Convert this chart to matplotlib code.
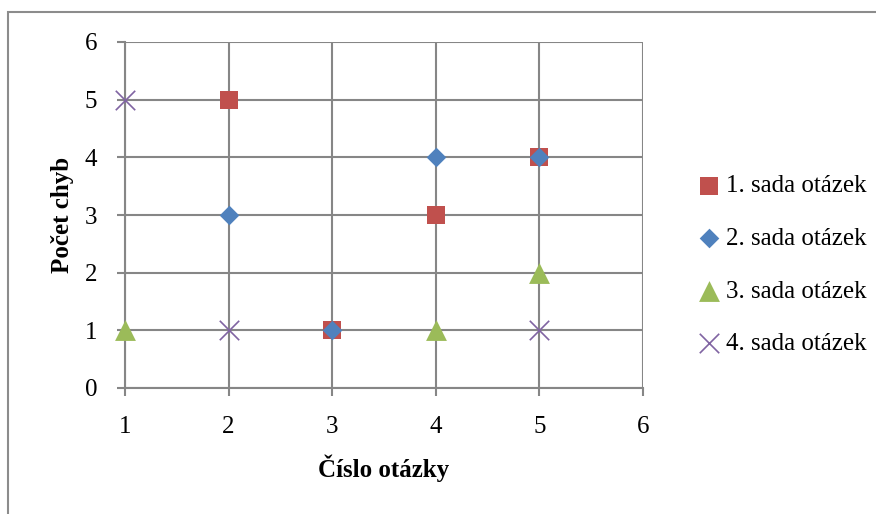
import matplotlib.pyplot as plt
from matplotlib.patches import Rectangle

# values
series_names = ["1. sada otázek", "2. sada otázek", "3. sada otázek", "4. sada otázek"]
x1 = [2, 3, 4, 5]
y1 = [5, 1, 3, 4]
x2 = [2, 3, 4, 5]
y2 = [3, 1, 4, 4]
x3 = [1, 4, 5]
y3 = [1, 1, 2]
x4 = [1, 2, 5]
y4 = [5, 1, 1]
x_ticks = [1, 2, 3, 4, 5, 6]
y_ticks = [0, 1, 2, 3, 4, 5, 6]

plt.rcParams['font.family'] = ['Liberation Serif', 'DejaVu Serif']
fs = 18
grid_c = '#868686'

fig = plt.figure(figsize=(8.76, 5.14), dpi=100)
# outer chart border (only top and left visible in reference)
fig.patches.append(Rectangle((8 / 876, -0.1), 1.2, 1.1 - 12 / 514, transform=fig.transFigure,
                             fill=False, edgecolor='#8c8c8c', linewidth=1.5))
ax = fig.add_axes([125 / 876, 1 - 388 / 514, (643 - 125) / 876, (388 - 42) / 514])

ax.scatter(x1, y1, marker='s', s=13.5 ** 2, color='#C0504D', label=series_names[0],
           zorder=3, linewidths=0, clip_on=False)
ax.scatter(x2, y2, marker='D', s=10 ** 2, color='#4F81BD', label=series_names[1],
           zorder=4, linewidths=0, clip_on=False)
ax.scatter(x3, y3, marker='^', s=15 ** 2, color='#9BBB59', label=series_names[2],
           zorder=3, linewidths=0, clip_on=False)
ax.scatter(x4, y4, marker='x', s=14 ** 2, color='#8064A2', label=series_names[3],
           zorder=3, linewidths=1.2, clip_on=False)

ax.set_xlim(1, 6)
ax.set_ylim(0, 6)
ax.set_xticks(x_ticks)
ax.set_yticks(y_ticks)
ax.grid(True, color=grid_c, linewidth=1.5, zorder=1)
ax.set_axisbelow(True)
for side in ['top', 'right']:
    ax.spines[side].set_visible(False)
for side in ['left', 'bottom']:
    ax.spines[side].set_color(grid_c)
    ax.spines[side].set_linewidth(1.5)
ax.tick_params(axis='both', colors=grid_c, labelcolor='black', labelsize=fs,
               length=6, width=1.5, direction='out')
ax.tick_params(axis='x', pad=14)
ax.tick_params(axis='y', pad=14)

ax.set_xlabel("Číslo otázky", fontsize=fs, fontweight='bold', labelpad=12)
ax.set_ylabel("Počet chyb", fontsize=fs, fontweight='bold', labelpad=8)

leg = ax.legend(loc='center left', bbox_to_anchor=(686 / 876, 1 - 265 / 514),
                bbox_transform=fig.transFigure, frameon=False, fontsize=fs,
                handlelength=0.8, handletextpad=0.3, labelspacing=1.2,
                borderpad=0, scatterpoints=1, markerscale=1.0)

fig.savefig('out.png', dpi=100)
